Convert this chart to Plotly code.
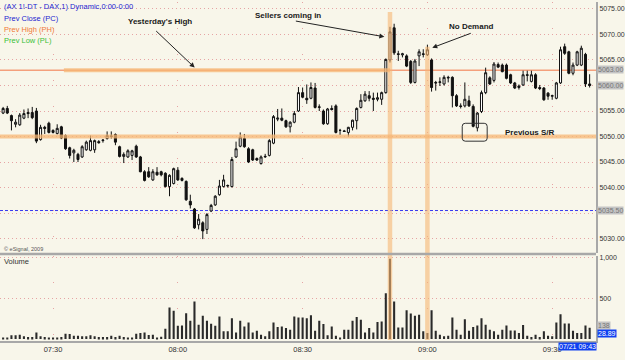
import plotly.graph_objects as go
import pandas as pd

# ---------------- data (1-minute bars, DAX future, 21 Jul 2009) ----------------
opens = [5054.6, 5055.5, 5054.1, 5052.4, 5052.3, 5053.6, 5054.7, 5054.7, 5055.0, 5049.4,
         5051.8, 5052.6, 5051.2, 5050.6, 5051.9, 5050.2, 5047.8, 5046.8, 5046.5, 5046.0,
         5047.4, 5047.3, 5047.4, 5049.0, 5049.2, 5049.6, 5050.0, 5050.4, 5048.0, 5046.1,
         5046.0, 5046.3, 5048.1, 5046.0, 5043.1, 5043.1, 5041.5, 5043.0, 5043.1, 5042.8,
         5040.2, 5040.8, 5043.4, 5041.8, 5041.2, 5037.3, 5035.8, 5032.7, 5033.1, 5031.8,
         5035.4, 5036.6, 5038.6, 5040.2, 5040.3, 5040.2, 5046.0, 5048.1, 5049.6, 5047.6,
         5047.4, 5045.7, 5044.7, 5046.0, 5046.3, 5048.7, 5053.4, 5053.6, 5053.1, 5051.9,
         5052.8, 5055.0, 5058.6, 5057.5, 5057.5, 5059.5, 5055.7, 5055.0, 5052.5, 5055.5,
         5056.0, 5051.2, 5051.1, 5050.8, 5051.8, 5053.1, 5055.7, 5057.0, 5058.0, 5057.5,
         5057.3, 5057.3, 5058.6, 5065.0, 5071.3, 5066.2, 5066.0, 5065.8, 5064.7, 5060.6,
         5065.8, 5066.2, 5066.0, 5065.0, 5060.6, 5060.6, 5060.3, 5061.6, 5061.6, 5058.0,
         5056.0, 5056.0, 5057.0, 5055.9, 5051.7, 5054.9, 5058.6, 5061.5, 5061.0, 5064.1,
         5064.0, 5064.0, 5062.1, 5060.5, 5059.6, 5060.1, 5062.1, 5060.8, 5062.1, 5059.6,
         5059.5, 5058.5, 5057.9, 5057.5, 5060.5, 5067.6, 5066.6, 5062.4, 5064.0, 5064.0,
         5066.1, 5060.3]
highs = [5055.8, 5056.0, 5054.3, 5053.4, 5054.6, 5055.3, 5055.5, 5055.8, 5055.6, 5052.3,
         5052.1, 5052.9, 5051.4, 5052.4, 5052.1, 5050.4, 5048.0, 5047.6, 5046.8, 5048.3,
         5049.2, 5050.2, 5049.4, 5049.3, 5049.5, 5051.0, 5051.0, 5050.6, 5048.2, 5046.9,
         5047.5, 5047.4, 5048.4, 5046.2, 5043.4, 5044.0, 5043.6, 5044.0, 5043.3, 5043.0,
         5042.6, 5043.9, 5044.0, 5042.0, 5041.4, 5038.6, 5036.0, 5034.8, 5033.4, 5035.0,
         5036.8, 5038.5, 5041.5, 5042.5, 5040.6, 5046.0, 5049.0, 5050.8, 5050.5, 5047.9,
         5047.6, 5045.9, 5046.3, 5046.6, 5049.5, 5054.2, 5055.4, 5055.5, 5053.3, 5053.0,
         5055.0, 5059.7, 5059.6, 5060.2, 5060.6, 5060.5, 5056.3, 5055.3, 5055.6, 5056.1,
         5056.3, 5051.5, 5051.3, 5051.9, 5053.3, 5055.7, 5058.3, 5058.9, 5058.9, 5058.6,
         5058.6, 5058.8, 5065.3, 5071.5, 5072.1, 5066.8, 5066.4, 5066.1, 5065.0, 5065.2,
         5067.1, 5067.1, 5068.0, 5065.3, 5060.9, 5061.6, 5062.0, 5061.9, 5061.8, 5058.3,
         5056.5, 5060.6, 5058.0, 5056.3, 5054.8, 5059.0, 5063.5, 5061.8, 5064.6, 5064.5,
         5064.3, 5064.3, 5062.3, 5060.7, 5060.2, 5062.9, 5062.9, 5062.9, 5062.4, 5060.1,
         5059.7, 5058.7, 5058.2, 5060.7, 5067.6, 5068.2, 5066.8, 5064.5, 5066.8, 5067.8,
         5066.4, 5062.2]
lows = [5054.4, 5054.4, 5051.2, 5051.8, 5052.1, 5053.4, 5053.6, 5053.4, 5048.7, 5049.2,
        5050.5, 5050.6, 5050.6, 5050.4, 5049.5, 5047.4, 5045.7, 5045.0, 5045.0, 5045.8,
        5047.2, 5047.1, 5046.8, 5048.6, 5048.8, 5049.4, 5049.6, 5048.3, 5045.9, 5044.8,
        5045.8, 5045.4, 5045.8, 5043.0, 5041.2, 5041.9, 5041.3, 5042.3, 5042.2, 5040.0,
        5038.3, 5040.6, 5041.3, 5041.2, 5037.4, 5035.9, 5031.9, 5031.8, 5029.9, 5030.9,
        5035.2, 5036.4, 5038.4, 5040.0, 5040.0, 5040.0, 5045.8, 5047.9, 5047.8, 5044.8,
        5045.2, 5045.2, 5044.5, 5045.8, 5046.1, 5048.5, 5053.0, 5053.0, 5051.7, 5050.8,
        5052.6, 5054.8, 5057.5, 5056.4, 5057.3, 5055.5, 5055.0, 5052.3, 5052.3, 5055.1,
        5050.6, 5050.3, 5050.9, 5050.0, 5051.2, 5051.4, 5055.5, 5056.8, 5056.9, 5055.0,
        5056.9, 5056.2, 5058.4, 5064.5, 5066.0, 5064.8, 5065.5, 5063.6, 5060.3, 5060.4,
        5063.8, 5065.5, 5065.8, 5058.8, 5059.0, 5059.9, 5060.0, 5060.6, 5055.7, 5055.8,
        5055.5, 5055.7, 5055.8, 5051.8, 5051.0, 5054.6, 5058.3, 5060.1, 5060.6, 5063.4,
        5062.6, 5061.2, 5060.3, 5059.3, 5059.2, 5059.9, 5060.8, 5060.6, 5059.3, 5059.1,
        5057.0, 5057.2, 5057.2, 5057.3, 5060.3, 5066.0, 5062.2, 5062.0, 5063.8, 5063.8,
        5059.7, 5059.6]
closes = [5055.5, 5054.6, 5053.1, 5052.8, 5054.2, 5054.5, 5054.5, 5053.7, 5049.1, 5051.8,
          5051.6, 5050.8, 5050.8, 5051.6, 5049.7, 5047.6, 5046.3, 5047.3, 5045.5, 5048.0,
          5048.9, 5049.2, 5049.2, 5048.8, 5049.3, 5050.2, 5050.1, 5048.9, 5046.1, 5046.5,
          5047.2, 5047.2, 5046.0, 5043.1, 5041.4, 5042.1, 5043.1, 5042.5, 5042.5, 5040.2,
          5042.4, 5043.7, 5041.5, 5041.4, 5037.6, 5036.6, 5032.1, 5033.8, 5031.5, 5034.7,
          5036.5, 5038.3, 5040.3, 5041.5, 5040.4, 5045.5, 5047.6, 5049.9, 5048.0, 5045.0,
          5045.4, 5045.4, 5046.0, 5046.1, 5049.2, 5053.9, 5053.6, 5053.2, 5051.9, 5052.8,
          5054.5, 5058.6, 5057.7, 5057.2, 5059.6, 5055.7, 5055.8, 5052.5, 5055.4, 5055.3,
          5050.8, 5051.2, 5051.0, 5051.8, 5053.2, 5055.5, 5057.1, 5058.3, 5057.5, 5057.3,
          5057.6, 5058.6, 5065.1, 5070.5, 5066.4, 5066.1, 5066.2, 5063.8, 5060.6, 5064.8,
          5066.6, 5066.1, 5067.0, 5059.6, 5060.5, 5060.7, 5061.6, 5061.5, 5058.0, 5056.0,
          5055.9, 5057.3, 5056.0, 5052.0, 5054.6, 5058.6, 5062.5, 5060.3, 5064.2, 5063.6,
          5062.7, 5061.4, 5060.5, 5059.5, 5059.9, 5062.1, 5062.0, 5062.1, 5059.5, 5059.4,
          5057.2, 5057.9, 5058.0, 5060.5, 5067.0, 5066.3, 5062.4, 5064.0, 5066.6, 5067.3,
          5060.3, 5060.0]
volumes = [20, 20, 45, 45, 53, 33, 24, 24, 81, 33,
           24, 16, 12, 12, 24, 65, 61, 41, 41, 33,
           33, 45, 33, 24, 24, 24, 41, 24, 41, 24,
           12, 12, 65, 73, 81, 49, 53, 12, 28, 126,
           387, 346, 163, 167, 317, 224, 460, 175, 285, 224,
           187, 163, 277, 94, 94, 256, 81, 224, 155, 204,
           81, 102, 53, 33, 94, 204, 147, 155, 134, 114,
           277, 265, 265, 256, 293, 102, 224, 183, 45, 155,
           41, 20, 114, 114, 224, 269, 236, 81, 134, 81,
           208, 216, 562, 985, 460, 142, 142, 354, 313, 285,
           297, 94, 73, 354, 102, 53, 33, 41, 265, 114,
           53, 244, 102, 147, 167, 256, 175, 114, 94, 53,
           114, 167, 106, 106, 73, 171, 41, 24, 53, 24,
           94, 41, 33, 204, 305, 191, 191, 102, 73, 73,
           167, 138]
times = pd.date_range("2009-07-21 07:18", periods=len(closes), freq="min")

prev_high = 5063.0
prev_close = 5035.5
support = 5050.0
price_ticks = [5030, 5035, 5040, 5045, 5050, 5055, 5060, 5065, 5070, 5075]
price_tick_text = ["5030.00", "", "5040.00", "5045.00", "5050.00", "5055.00", "",
                   "5065.00", "5070.00", "5075.00"]
vol_ticks = [500, 1000]
vol_tick_text = ["500", "1,000"]
time_ticks = ["2009-07-21 07:30", "2009-07-21 08:00", "2009-07-21 08:30",
              "2009-07-21 09:00", "2009-07-21 09:30"]
sellers_bar = 93
nodemand_bar = 102

# ---------------- geometry helpers ----------------
W, H = 597.0, 341.0          # plot area in pixels
P_LO, P_HI = 5027.27, 5076.36
V_LO, V_HI = -24, 1024
P_DOM = [1 - 252 / H, 1.0]
V_DOM = [0.0, 1 - 255 / H]
t0 = pd.Timestamp("2009-07-21 07:17:15")
t1 = t0 + pd.Timedelta(minutes=W / 4.1667)


def xp(px):
    return px / W


def yp(py):
    return 1 - py / H


def tpx(px):
    return t0 + pd.Timedelta(minutes=px / 4.1667)


BG = "#F8F6EA"
GRID = "#E6A4A4"
ORANGE = "#F7B774"

fig = go.Figure()
fig.add_trace(go.Candlestick(
    x=times, open=opens, high=highs, low=lows, close=closes,
    increasing=dict(line=dict(color="#111111", width=1), fillcolor="#FFFFFF"),
    decreasing=dict(line=dict(color="#111111", width=1), fillcolor="#111111"),
    xaxis="x", yaxis="y", hoverinfo="skip", showlegend=False))
fig.add_trace(go.Bar(
    x=times, y=volumes, marker=dict(color="#2A2A2A", line=dict(width=0)),
    width=30000, xaxis="x2", yaxis="y2", hoverinfo="skip", showlegend=False))

shapes = []
shapes.append(dict(type="line", xref="paper", yref="y", x0=0, x1=1, y0=prev_high, y1=prev_high,
                   line=dict(color="#F4A07C", width=1.5), layer="below"))
shapes.append(dict(type="line", xref="x", yref="y", x0=tpx(64), x1=times[sellers_bar],
                   y0=prev_high, y1=prev_high, line=dict(color=ORANGE, width=4), opacity=0.75, layer="above"))
shapes.append(dict(type="line", xref="paper", yref="y", x0=0, x1=1, y0=support, y1=support,
                   line=dict(color=ORANGE, width=4), opacity=0.75, layer="above"))
shapes.append(dict(type="line", xref="paper", yref="y", x0=0, x1=1, y0=prev_close, y1=prev_close,
                   line=dict(color="#3A3AF0", width=1, dash="3px,2px"), layer="below"))
shapes.append(dict(type="line", xref="x", yref="paper", x0=times[sellers_bar], x1=times[sellers_bar],
                   y0=yp(340), y1=yp(10), line=dict(color=ORANGE, width=4.5), opacity=0.6, layer="above"))
shapes.append(dict(type="line", xref="x", yref="paper", x0=times[nodemand_bar], x1=times[nodemand_bar],
                   y0=yp(340), y1=yp(45), line=dict(color=ORANGE, width=4.5), opacity=0.6, layer="above"))
shapes.append(dict(type="line", xref="paper", yref="paper", x0=0, x1=1, y0=yp(253.5), y1=yp(253.5),
                   line=dict(color="#A8A8A8", width=2.5), layer="above"))
bx0, bx1, by0, by1, r = 463, 488, 122, 140, 3


def P(a, b):
    return f"{xp(a):.5f},{yp(b):.5f}"


path = (f"M {P(bx0 + r, by0)} L {P(bx1 - r, by0)} Q {P(bx1, by0)} {P(bx1, by0 + r)} "
        f"L {P(bx1, by1 - r)} Q {P(bx1, by1)} {P(bx1 - r, by1)} L {P(bx0 + r, by1)} "
        f"Q {P(bx0, by1)} {P(bx0, by1 - r)} L {P(bx0, by0 + r)} Q {P(bx0, by0)} {P(bx0 + r, by0)} Z")
shapes.append(dict(type="path", xref="paper", yref="paper", path=path,
                   line=dict(color="#333333", width=1), layer="above"))

ann = []
FONT = "Liberation Sans"
hdr = [("(AX 1!-DT - DAX,1) Dynamic,0:00-0:00", "#2323D0", 5),
       ("Prev Close (PC)", "#2323D0", 16.5),
       ("Prev High (PH)", "#F07A38", 27.5),
       ("Prev Low (PL)", "#38C038", 38.5)]
for txt, col, py in hdr:
    ann.append(dict(text=txt, xref="paper", yref="paper", x=xp(2), y=yp(py), xanchor="left",
                    yanchor="middle", showarrow=False, font=dict(family=FONT, size=7.5, color=col)))
for txt, cx, cy in [("Yesterday's High", 160, 20), ("Sellers coming in", 288, 14),
                    ("No Demand", 472, 25), ("Previous S/R", 531, 131)]:
    ann.append(dict(text="<b>" + txt + "</b>", xref="paper", yref="paper", x=xp(cx), y=yp(cy),
                    xanchor="center", yanchor="middle", showarrow=False,
                    font=dict(family=FONT, size=8, color="#1A1A1A")))
for (tx, ty), (hx, hy) in [((155, 28), (195, 66)), ((295, 19), (385, 35)), ((473, 31), (433, 46))]:
    ann.append(dict(text="", xref="paper", yref="paper", x=xp(hx), y=yp(hy), ax=tx - hx, ay=ty - hy,
                    showarrow=True, arrowhead=2, arrowsize=1, arrowwidth=1, arrowcolor="#222222"))
ann.append(dict(text="© eSignal, 2009", xref="paper", yref="paper", x=xp(2), y=yp(248),
                xanchor="left", yanchor="middle", showarrow=False,
                font=dict(family=FONT, size=5.5, color="#555555")))
ann.append(dict(text="Volume", xref="paper", yref="paper", x=xp(2), y=yp(261),
                xanchor="left", yanchor="middle", showarrow=False,
                font=dict(family=FONT, size=7.5, color="#333333")))
for txt, py, bg, fc in [(f"{prev_high:.2f}", 68, "#C4C4C4", "#767676"),
                        (f"{closes[-1]:.2f}", 84, "#C4C4C4", "#767676"),
                        (f"{prev_close:.2f}", 210, "#C4C4C4", "#767676"),
                        (str(volumes[-1]), 325, "#C4C4C4", "#767676"),
                        ("28.89", 333, "#1040F0", "#FFFFFF")]:
    ann.append(dict(text=txt, xref="paper", yref="paper", x=xp(598.5), y=yp(py), xanchor="left",
                    yanchor="middle", showarrow=False, bgcolor=bg, borderpad=0,
                    font=dict(family=FONT, size=7, color=fc)))
ann.append(dict(text="07/21 09:43", xref="paper", yref="paper", x=xp(598), y=yp(347),
                xanchor="right", yanchor="middle", showarrow=False, bgcolor="#1040F0", borderpad=0,
                font=dict(family=FONT, size=7, color="#FFFFFF")))

fig.update_layout(
    width=625, height=360,
    margin=dict(l=0, r=28, t=0, b=19),
    paper_bgcolor=BG, plot_bgcolor=BG,
    showlegend=False, bargap=0.5,
    shapes=shapes, annotations=ann,
    font=dict(family=FONT, size=7, color="#333333"),
    xaxis=dict(domain=[0, 1], anchor="y", range=[t0, t1], rangeslider=dict(visible=False),
               tickvals=time_ticks, showticklabels=False, showgrid=True, gridcolor=GRID,
               griddash="1px,25px", gridwidth=1, zeroline=False, showline=False),
    xaxis2=dict(domain=[0, 1], anchor="y2", range=[t0, t1], matches="x",
                tickvals=time_ticks, tickformat="%H:%M", ticks="", showgrid=True, gridcolor=GRID,
                griddash="1px,25px", gridwidth=1, zeroline=False, showline=True,
                linecolor="#A8A8A8", linewidth=2, tickfont=dict(size=7.5, color="#333333")),
    yaxis=dict(domain=P_DOM, anchor="x", side="right", range=[P_LO, P_HI], tickvals=price_ticks,
               ticktext=price_tick_text, ticks="", showgrid=True, gridcolor=GRID,
               griddash="1px,3px", zeroline=False, showline=True, linecolor="#A8A8A8", linewidth=2,
               tickfont=dict(size=7, color="#333333")),
    yaxis2=dict(domain=V_DOM, anchor="x2", side="right", range=[V_LO, V_HI], tickvals=vol_ticks,
                ticktext=vol_tick_text, ticks="", showgrid=True, gridcolor=GRID, griddash="1px,3px",
                zeroline=False, showline=True, linecolor="#A8A8A8", linewidth=2,
                tickfont=dict(size=7, color="#333333")),
)

fig.write_html("out.html")
